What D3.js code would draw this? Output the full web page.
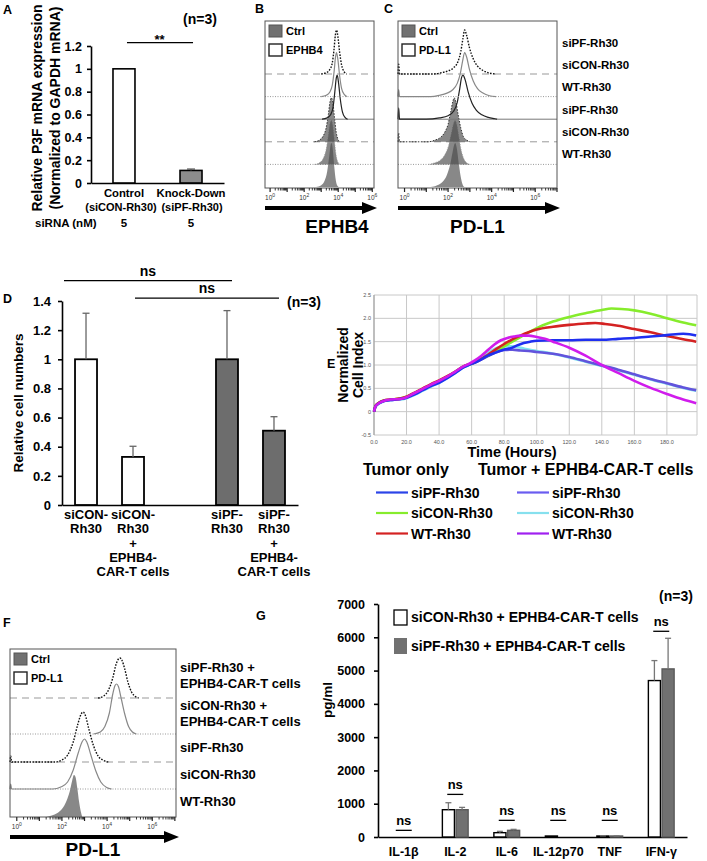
<!DOCTYPE html>
<html>
<head>
<meta charset="utf-8">
<script src="https://cdn.jsdelivr.net/npm/d3@7/dist/d3.min.js"></script>
<style>
  html,body{margin:0;padding:0;background:#fff;}
  svg{display:block;}
</style>
</head>
<body>
<svg id="fig" width="707" height="861"></svg>
<script>
// ================= DATA =================
// ---- Panel A ----
const aCategories = ["Control", "Knock-Down"];
const aSubLabels = ["(siCON-Rh30)", "(siPF-Rh30)"];
const aValues = [1.0, 0.11];
const aErrors = [0, 0.012];
const aSiRNA = ["5", "5"];
const aTicks = [0, 0.2, 0.4, 0.6, 0.8, 1, 1.2];
const aTickLabels = ["0", "0.2", "0.4", "0.6", "0.8", "1", "1.2"];
const aSigLevel = 1.23;

// ---- Panels B / C / F (flow histograms: [log10 intensity, relative count]) ----
const flowTickExps = [0, 2, 4, 6];
const cRowLabels = ["siPF-Rh30", "siCON-Rh30", "WT-Rh30", "siPF-Rh30", "siCON-Rh30", "WT-Rh30"];
const bHist = [
  [[3.0,0],[3.3,3],[3.5,10],[3.65,25],[3.75,55],[3.83,88],[3.9,100],[3.98,85],[4.08,50],[4.2,20],[4.35,5],[4.5,0]],
  [[3.0,0],[3.3,3],[3.5,10],[3.65,26],[3.76,58],[3.84,90],[3.9,100],[3.98,84],[4.08,48],[4.2,18],[4.35,5],[4.5,0]],
  [[3.05,0],[3.35,3],[3.55,10],[3.7,28],[3.8,62],[3.88,92],[3.94,100],[4.02,82],[4.12,46],[4.25,16],[4.4,4],[4.55,0]],
  [[2.6,0],[2.9,4],[3.1,12],[3.28,30],[3.42,62],[3.52,92],[3.6,100],[3.68,90],[3.78,55],[3.88,22],[3.98,6],[4.1,0]],
  [[2.6,0],[2.9,4],[3.1,12],[3.28,32],[3.42,65],[3.52,93],[3.6,100],[3.68,88],[3.78,52],[3.88,20],[3.98,5],[4.1,0]],
  [[2.7,0],[3.0,4],[3.2,14],[3.35,35],[3.47,70],[3.55,95],[3.61,100],[3.68,86],[3.77,45],[3.86,15],[3.95,3],[4.05,0]]
];
const cHist = [
  [[-0.3,0],[-0.27,22],[-0.23,0],[1.3,0],[1.7,3],[2.0,7],[2.25,14],[2.45,28],[2.58,50],[2.68,80],[2.76,100],[2.85,88],[2.98,60],[3.15,35],[3.35,18],[3.6,8],[3.9,2],[4.2,0]],
  [[-0.3,0],[-0.27,16],[-0.23,0],[1.2,0],[1.6,3],[1.95,8],[2.2,15],[2.42,30],[2.56,52],[2.67,82],[2.76,100],[2.85,90],[2.98,62],[3.15,36],[3.35,18],[3.6,8],[3.9,2],[4.2,0]],
  [[-0.3,0],[-0.27,26],[-0.23,0],[1.0,0],[1.6,3],[2.0,8],[2.25,18],[2.42,38],[2.53,68],[2.62,95],[2.68,100],[2.78,90],[2.92,62],[3.1,36],[3.3,20],[3.55,10],[3.85,4],[4.15,1],[4.25,0]],
  [[-0.3,0],[-0.27,20],[-0.23,0],[1.1,0],[1.4,4],[1.65,10],[1.85,22],[2.0,40],[2.12,68],[2.22,92],[2.28,100],[2.36,90],[2.46,62],[2.58,32],[2.7,12],[2.85,4],[3.0,0]],
  [[1.1,0],[1.4,4],[1.65,10],[1.85,22],[2.02,42],[2.15,70],[2.25,92],[2.32,100],[2.4,90],[2.5,60],[2.62,28],[2.75,10],[2.9,2],[3.0,0]],
  [[1.2,0],[1.5,4],[1.75,12],[1.95,28],[2.1,52],[2.2,78],[2.28,96],[2.33,100],[2.4,88],[2.5,50],[2.6,18],[2.68,4],[2.75,0]]
];
const fRowLabels = [["siPF-Rh30 +", "EPHB4-CAR-T cells"], ["siCON-Rh30 +", "EPHB4-CAR-T cells"], ["siPF-Rh30"], ["siCON-Rh30"], ["WT-Rh30"]];
const fHist = [
  [[3.6,0],[3.85,4],[4.05,15],[4.25,40],[4.4,68],[4.5,78],[4.57,80],[4.65,76],[4.78,58],[4.92,32],[5.08,12],[5.25,3],[5.4,0]],
  [[3.4,0],[3.7,4],[3.9,15],[4.1,42],[4.25,80],[4.35,97],[4.42,100],[4.5,95],[4.62,72],[4.78,40],[4.95,15],[5.12,4],[5.3,0]],
  [[-0.3,0],[-0.27,12],[-0.23,0],[1.7,0],[2.0,4],[2.25,14],[2.5,40],[2.7,75],[2.85,96],[2.94,100],[3.03,94],[3.18,68],[3.38,35],[3.6,12],[3.85,3],[4.05,0]],
  [[-0.3,0],[-0.27,10],[-0.23,0],[1.6,0],[1.95,4],[2.25,14],[2.5,38],[2.72,72],[2.9,95],[3.0,100],[3.1,94],[3.28,68],[3.5,36],[3.72,14],[3.98,3],[4.2,0]],
  [[1.3,0],[1.55,3],[1.8,8],[2.0,16],[2.2,32],[2.35,52],[2.45,72],[2.53,84],[2.6,80],[2.68,58],[2.76,30],[2.84,10],[2.9,0]]
];

// ---- Panel D ----
const dCategories = ["siCON-Rh30", "siCON-Rh30 + EPHB4-CAR-T cells", "siPF-Rh30", "siPF-Rh30 + EPHB4-CAR-T cells"];
const dLabelLines = [["siCON-", "Rh30"], ["siCON-", "Rh30", "+", "EPHB4-", "CAR-T cells"], ["siPF-", "Rh30"], ["siPF-", "Rh30", "+", "EPHB4-", "CAR-T cells"]];
const dValues = [1.0, 0.33, 1.0, 0.51];
const dErrors = [0.316, 0.073, 0.334, 0.096];
const dTicks = [0, 0.2, 0.4, 0.6, 0.8, 1, 1.2, 1.4];
const dTickLabels = ["0", "0.2", "0.4", "0.6", "0.8", "1", "1.2", "1.4"];
const dSigPairs = [[0, 2], [1, 3]];
const dSigLevels = [1.54, 1.42];

// ---- Panel E (hours, normalized cell index) ----
const eTumorSiPF = [[0,0],[1,0.12],[3,0.18],[6,0.23],[10,0.25],[16,0.27],[20,0.3],[25,0.37],[30,0.46],[35,0.55],[40,0.62],[45,0.72],[50,0.83],[55,0.95],[58,1.0],[62,1.05],[66,1.12],[70,1.2],[75,1.27],[80,1.33],[84,1.36],[88,1.42],[92,1.47],[96,1.5],[100,1.52],[110,1.53],[120,1.53],[130,1.54],[140,1.54],[150,1.56],[160,1.58],[170,1.61],[180,1.64],[190,1.67],[194,1.66],[198,1.63]];
const eTumorSiCON = [[0,0],[1,0.13],[3,0.19],[6,0.24],[10,0.26],[16,0.28],[20,0.32],[25,0.4],[30,0.49],[35,0.58],[40,0.66],[45,0.75],[50,0.86],[55,0.97],[58,1.01],[62,1.06],[66,1.13],[70,1.2],[75,1.29],[80,1.4],[85,1.5],[90,1.6],[95,1.7],[100,1.79],[110,1.93],[120,2.03],[130,2.11],[140,2.18],[146,2.21],[152,2.2],[160,2.17],[170,2.1],[180,2.0],[190,1.91],[198,1.85]];
const eTumorWT = [[0,0],[1,0.13],[3,0.19],[6,0.24],[10,0.26],[16,0.28],[20,0.32],[25,0.41],[30,0.5],[35,0.59],[40,0.67],[45,0.76],[50,0.86],[55,0.97],[58,1.01],[62,1.06],[66,1.13],[70,1.22],[75,1.34],[80,1.45],[85,1.55],[90,1.63],[95,1.7],[100,1.76],[110,1.82],[120,1.86],[130,1.89],[136,1.9],[142,1.88],[150,1.84],[160,1.77],[170,1.7],[180,1.62],[190,1.55],[198,1.5]];
const eCarSiPF = [[0,0],[1,0.12],[3,0.18],[6,0.23],[10,0.25],[16,0.27],[20,0.31],[25,0.39],[30,0.48],[35,0.57],[40,0.65],[45,0.74],[50,0.85],[55,0.96],[58,1.0],[62,1.05],[66,1.12],[70,1.19],[75,1.27],[80,1.32],[85,1.33],[90,1.31],[95,1.3],[100,1.28],[110,1.24],[120,1.17],[130,1.08],[140,0.99],[150,0.9],[160,0.8],[170,0.7],[180,0.61],[190,0.52],[198,0.46]];
const eCarSiCON = [[0,0],[1,0.11],[3,0.17],[6,0.22],[10,0.25],[16,0.26],[20,0.29],[25,0.36],[30,0.45],[35,0.54],[40,0.62],[45,0.72],[50,0.83],[55,0.95],[58,0.99],[62,1.05],[66,1.15],[70,1.26],[75,1.36],[80,1.4],[85,1.4],[90,1.37],[95,1.33],[100,1.3],[110,1.24],[120,1.16],[130,1.07],[140,0.98],[150,0.89],[160,0.79],[170,0.69],[180,0.6],[190,0.51],[198,0.45]];
const eCarWT = [[0,0],[1,0.12],[3,0.18],[6,0.23],[10,0.26],[16,0.27],[20,0.31],[25,0.4],[30,0.49],[35,0.58],[40,0.66],[45,0.75],[50,0.86],[55,0.97],[58,1.02],[62,1.1],[66,1.2],[70,1.32],[74,1.44],[78,1.53],[82,1.58],[86,1.61],[90,1.63],[95,1.63],[100,1.6],[105,1.56],[110,1.5],[120,1.37],[130,1.2],[140,1.0],[150,0.83],[160,0.66],[170,0.51],[180,0.38],[190,0.26],[198,0.18]];
const eXTicks = [0, 20, 40, 60, 80, 100, 120, 140, 160, 180];
const eXTickLabels = ["0.0", "20.0", "40.0", "60.0", "80.0", "100.0", "120.0", "140.0", "160.0", "180.0"];
const eYTicks = [-0.5, 0, 0.5, 1, 1.5, 2, 2.5];
const eYTickLabels = ["-0.5", "0", "0.5", "1.0", "1.5", "2.0", "2.5"];
const eLegendGroups = ["Tumor only", "Tumor + EPHB4-CAR-T cells"];
const eLegendNames = ["siPF-Rh30", "siCON-Rh30", "WT-Rh30"];

// ---- Panel G ----
const gCategories = ["IL-1β", "IL-2", "IL-6", "IL-12p70", "TNF", "IFN-γ"];
const gSeries = ["siCON-Rh30 + EPHB4-CAR-T cells", "siPF-Rh30 + EPHB4-CAR-T cells"];
const gSiCON = [0, 820, 130, 30, 30, 4700];
const gSiCONErr = [0, 210, 40, 0, 5, 600];
const gSiPF = [0, 820, 200, 0, 30, 5050];
const gSiPFErr = [0, 70, 30, 0, 5, 920];
const gTicks = [0, 1000, 2000, 3000, 4000, 5000, 6000, 7000];
const gSigLevels = [200, 1280, 500, 500, 500, 6180];

// ================= DRAWING =================
const FONT = "'Liberation Sans', Arial, Helvetica, sans-serif";
const svg = d3.select("#fig").attr("font-family", FONT);
svg.append("rect").attr("width", 707).attr("height", 861).attr("fill", "#fff");

function label(g, x, y, s, o = {}) {
  return g.append("text").attr("x", x).attr("y", y).text(s)
    .attr("font-size", o.size || 12)
    .attr("font-weight", o.weight || "bold")
    .attr("text-anchor", o.anchor || "start")
    .attr("fill", o.fill || "#000");
}
function vlabel(g, x, y, s, size) {
  return g.append("text").attr("transform", `translate(${x},${y}) rotate(-90)`)
    .attr("text-anchor", "middle").attr("font-size", size).attr("font-weight", "bold").text(s);
}
function styleAxis(sel, size) {
  sel.select(".domain").attr("stroke", "#000").attr("stroke-width", 1.6);
  sel.selectAll(".tick line").attr("stroke", "#000").attr("stroke-width", 1.6);
  sel.selectAll(".tick text").attr("font-size", size).attr("font-weight", "bold")
    .attr("fill", "#000").attr("font-family", FONT);
}
function errBar(g, x, yTop, yBase, cap, color) {
  g.append("line").attr("x1", x).attr("x2", x).attr("y1", yBase).attr("y2", yTop)
    .attr("stroke", color).attr("stroke-width", 1.3);
  g.append("line").attr("x1", x - cap / 2).attr("x2", x + cap / 2).attr("y1", yTop).attr("y2", yTop)
    .attr("stroke", color).attr("stroke-width", 1.3);
}

// ---------- Panel A ----------
(function () {
  const g = svg.append("g");
  const x = d3.scaleBand().domain(aCategories).range([91, 224]).paddingInner(0.672).paddingOuter(0.328);
  const y = d3.scaleLinear().domain([0, 1.2]).range([183, 46]);
  label(g, 3, 14, "A", { size: 12.5 });
  label(g, 183, 24, "(n=3)", { size: 14 });
  vlabel(g, 42, 108, "Relative P3F mRNA expression", 14);
  vlabel(g, 60, 108, "(Normalized to GAPDH mRNA)", 14);
  g.append("g").attr("transform", "translate(91,0)")
    .call(d3.axisLeft(y).tickValues(aTicks).tickSize(4).tickSizeOuter(0).tickPadding(5)
      .tickFormat((d, i) => aTickLabels[i]))
    .call(s => styleAxis(s, 12.5));
  g.append("g").attr("transform", `translate(0,${y(0)})`)
    .call(d3.axisBottom(x).tickSize(0).tickSizeOuter(0).tickFormat(""))
    .call(s => styleAxis(s, 12));
  g.selectAll("rect.bar").data(aValues).join("rect").attr("class", "bar")
    .attr("x", (d, i) => x(aCategories[i])).attr("width", x.bandwidth())
    .attr("y", d => y(d)).attr("height", d => y(0) - y(d))
    .attr("fill", (d, i) => i === 0 ? "#fff" : "#8c8c8c")
    .attr("stroke", "#000").attr("stroke-width", 1.6);
  aValues.forEach((v, i) => {
    if (aErrors[i] > 0) errBar(g, x(aCategories[i]) + x.bandwidth() / 2, y(v + aErrors[i]), y(v), 8, "#555");
  });
  const cx = i => x(aCategories[i]) + x.bandwidth() / 2;
  g.append("line").attr("x1", cx(0) + 3).attr("x2", cx(1) + 2).attr("y1", y(aSigLevel)).attr("y2", y(aSigLevel))
    .attr("stroke", "#000").attr("stroke-width", 1.3);
  label(g, (cx(0) + cx(1)) / 2 + 2, y(aSigLevel) + 1, "**", { size: 13, anchor: "middle" });
  const shift = [-3, 1];
  aCategories.forEach((c, i) => {
    label(g, cx(i), 197, c, { size: 11.3, anchor: "middle" });
    label(g, cx(i) + shift[i], 211, aSubLabels[i], { size: 11, anchor: "middle" });
    label(g, cx(i), 227, aSiRNA[i], { size: 11.5, anchor: "middle" });
  });
  label(g, 35, 227, "siRNA (nM)", { size: 11.5 });
})();

// ---------- Flow panel helper ----------
function flowPanel(o) {
  const g = svg.append("g");
  const x = d3.scaleLog().domain([Math.pow(10, -0.3), Math.pow(10, o.maxExp)]).range([o.x0, o.x1]);
  const h = d3.scaleLinear().domain([0, 100]).range([0, o.hPx]);
  const xs = d => x(Math.pow(10, d[0]));
  for (let i = o.hist.length - 1; i >= 0; i--) {
    const base = o.rowBase[i], st = o.styles[i];
    if (st.base) {
      g.append("line").attr("x1", o.x0).attr("x2", o.x1).attr("y1", base).attr("y2", base)
        .attr("stroke", st.baseColor || "#999").attr("stroke-width", 1)
        .attr("stroke-dasharray", st.base === "dash" ? "7,5" : st.base === "dot" ? "1,1.5" : null);
    }
    const pts = o.hist[i];
    if (st.fill) {
      g.append("path").datum(pts)
        .attr("d", d3.area().x(xs).y0(base).y1(d => base - h(d[1])).curve(d3.curveMonotoneX))
        .attr("fill", "#4a4a4a").attr("fill-opacity", 0.66);
    }
    if (st.stroke) {
      g.append("path").datum(pts)
        .attr("d", d3.line().x(xs).y(d => base - h(d[1])).curve(d3.curveMonotoneX))
        .attr("fill", "none").attr("stroke", st.stroke).attr("stroke-width", st.sw || 1.2)
        .attr("stroke-dasharray", st.dash || null);
    }
  }
  g.append("rect").attr("x", o.x0).attr("y", o.y0).attr("width", o.x1 - o.x0).attr("height", o.y1 - o.y0)
    .attr("fill", "none").attr("stroke", "#555").attr("stroke-width", 1);
  const maxV = Math.pow(10, o.maxExp);
  for (let k = 0; k <= 7; k++) {
    for (let m = 1; m <= 9; m++) {
      const v = m * Math.pow(10, k);
      if (v > maxV) continue;
      const px = x(v);
      g.append("line").attr("x1", px).attr("x2", px).attr("y1", o.y1).attr("y2", o.y1 + (m === 1 ? 4 : 2.5))
        .attr("stroke", "#222").attr("stroke-width", m === 1 ? 1.2 : 0.9);
    }
  }
  flowTickExps.forEach(k => {
    if (Math.pow(10, k) > maxV) return;
    const t = g.append("text").attr("x", x(Math.pow(10, k))).attr("y", o.y1 + 12)
      .attr("text-anchor", "middle").attr("font-size", 6.5).attr("fill", "#333");
    t.append("tspan").text("10");
    t.append("tspan").attr("dy", -3).attr("font-size", 5).text(k);
  });
  const ay = o.y1 + 20;
  g.append("line").attr("x1", o.x0).attr("x2", o.x1 - 8).attr("y1", ay).attr("y2", ay)
    .attr("stroke", "#000").attr("stroke-width", 3.8);
  g.append("path").attr("d", `M${o.x1 - 12},${ay - 6}L${o.x1 + 3},${ay}L${o.x1 - 12},${ay + 6}Z`).attr("fill", "#000");
  label(g, o.titleX != null ? o.titleX : (o.x0 + o.x1) / 2, o.titleY, o.title, { size: o.titleSize, anchor: "middle" });
  g.append("rect").attr("x", o.x0 + 4).attr("y", o.y0 + 4).attr("width", 13).attr("height", 12)
    .attr("fill", "#717171").attr("stroke", "#555").attr("stroke-width", 1);
  label(g, o.x0 + 21, o.y0 + 14, "Ctrl", { size: 11 });
  g.append("rect").attr("x", o.x0 + 4).attr("y", o.y0 + 23).attr("width", 13).attr("height", 12)
    .attr("fill", "#fff").attr("stroke", "#222").attr("stroke-width", 1.4);
  label(g, o.x0 + 21, o.y0 + 33, o.stainName, { size: 11 });
  label(g, o.letterX, o.letterY, o.letter, { size: 12.5 });
  return { g, x };
}

const rowStyles6 = [
  { base: "dash", stroke: "#111", dash: "1.6,1.4", sw: 1.4 },
  { base: "dot", stroke: "#888", sw: 1.2 },
  { base: "solid", baseColor: "#777", stroke: "#222", sw: 1.2 },
  { base: "dash", fill: true, stroke: "#333", dash: "1.5,1.5", sw: 1 },
  { base: "dot", fill: true, stroke: "#999", dash: "1,1.5", sw: 0.8 },
  { base: null, fill: true }
];
const rowBase6 = d3.range(6).map(i => 74 + i * 22.6);

flowPanel({ x0: 265, x1: 374, y0: 21, y1: 188, maxExp: 6.1, hist: bHist, rowBase: rowBase6, styles: rowStyles6, hPx: 44,
  title: "EPHB4", titleX: 337, titleY: 233, titleSize: 19, stainName: "EPHB4", letter: "B", letterX: 255, letterY: 13 });
flowPanel({ x0: 398, x1: 557, y0: 21, y1: 188, maxExp: 7, hist: cHist, rowBase: rowBase6, styles: rowStyles6, hPx: 44,
  title: "PD-L1", titleY: 233, titleSize: 19, stainName: "PD-L1", letter: "C", letterX: 384, letterY: 13 });
(function () {
  const g = svg.append("g");
  cRowLabels.forEach((s, i) => label(g, 562, 47 + i * 22.2, s, { size: 11.5 }));
})();

// ---------- Panel D ----------
(function () {
  const g = svg.append("g");
  const keys = [dCategories[0], dCategories[1], "", dCategories[2], dCategories[3]];
  const x = d3.scaleBand().domain(keys).range([62, 298]).paddingInner(0.532).paddingOuter(0.277);
  const y = d3.scaleLinear().domain([0, 1.4]).range([505, 301]);
  label(g, 3, 303, "D", { size: 12.5 });
  label(g, 287, 307, "(n=3)", { size: 14 });
  vlabel(g, 23, 403, "Relative cell numbers", 13.5);
  g.append("g").attr("transform", "translate(62,0)")
    .call(d3.axisLeft(y).tickValues(dTicks).tickSize(4).tickSizeOuter(0).tickPadding(7)
      .tickFormat((d, i) => dTickLabels[i]))
    .call(s => styleAxis(s, 13));
  g.append("g").attr("transform", `translate(0,${y(0)})`)
    .call(d3.axisBottom(x).tickSize(0).tickSizeOuter(0).tickFormat(""))
    .call(s => styleAxis(s, 12));
  const cx = i => x(dCategories[i]) + x.bandwidth() / 2;
  g.selectAll("rect.bar").data(dValues).join("rect").attr("class", "bar")
    .attr("x", (d, i) => x(dCategories[i])).attr("width", x.bandwidth())
    .attr("y", d => y(d)).attr("height", d => y(0) - y(d))
    .attr("fill", (d, i) => i < 2 ? "#fff" : "#6d6d6d")
    .attr("stroke", "#000").attr("stroke-width", 1.8);
  dValues.forEach((v, i) => errBar(g, cx(i), y(v + dErrors[i]), y(v), 7, "#666"));
  dLabelLines.forEach((lines, i) => lines.forEach((s, j) =>
    label(g, cx(i), 519 + j * 14.3, s, { size: 13, anchor: "middle" })));
  dSigPairs.forEach((p, k) => {
    const yy = y(dSigLevels[k]);
    const x1 = k === 0 ? x.range()[0] + 2 : cx(p[0]) + 2;
    const x2 = cx(p[1]) + 5;
    g.append("line").attr("x1", x1).attr("x2", x2).attr("y1", yy).attr("y2", yy)
      .attr("stroke", "#000").attr("stroke-width", 1.3);
    label(g, (x1 + x2) / 2, yy - 5, "ns", { size: 14, anchor: "middle" });
  });
})();

// ---------- Panel E ----------
(function () {
  const g = svg.append("g");
  const x = d3.scaleLinear().domain([0, 198.5]).range([374, 697]);
  const y = d3.scaleLinear().domain([-0.5, 2.5]).range([435, 295]);
  label(g, 327, 368, "E", { size: 12.5 });
  g.selectAll("line.vg").data(eXTicks.concat([198.5])).join("line").attr("class", "vg")
    .attr("x1", d => x(d)).attr("x2", d => x(d)).attr("y1", y(-0.5)).attr("y2", y(2.5))
    .attr("stroke", "#c8c8c8").attr("stroke-width", 1);
  g.selectAll("line.hg").data(eYTicks).join("line").attr("class", "hg")
    .attr("x1", x(0)).attr("x2", x(198.5)).attr("y1", d => y(d)).attr("y2", d => y(d))
    .attr("stroke", "#c8c8c8").attr("stroke-width", 1);
  g.append("line").attr("x1", x(0)).attr("x2", x(0)).attr("y1", y(-0.5)).attr("y2", y(2.5))
    .attr("stroke", "#999").attr("stroke-width", 1);
  eXTicks.forEach((t, i) => label(g, x(t), 444, eXTickLabels[i], { size: 5.5, weight: "normal", anchor: "middle", fill: "#555" }));
  eYTicks.forEach((t, i) => label(g, 371, y(t) + 2, eYTickLabels[i], { size: 5.5, weight: "normal", anchor: "end", fill: "#555" }));
  vlabel(g, 348, 365, "Normalized", 14);
  vlabel(g, 363, 365, "Cell Index", 14);
  label(g, 512, 457, "Time (Hours)", { size: 14.5, anchor: "middle" });
  const series = [
    { d: eCarSiCON, c: "#7fe3ee" },
    { d: eCarSiPF, c: "#6253dc" },
    { d: eTumorSiCON, c: "#86ec2c" },
    { d: eTumorWT, c: "#d42222" },
    { d: eTumorSiPF, c: "#1f2ff0" },
    { d: eCarWT, c: "#d01cec" }
  ];
  const line = d3.line().x(d => x(d[0])).y(d => y(d[1])).curve(d3.curveMonotoneX);
  series.forEach(s => g.append("path").datum(s.d).attr("d", line)
    .attr("fill", "none").attr("stroke", s.c).attr("stroke-width", 2.6).attr("stroke-linejoin", "round"));
  label(g, 363, 475, eLegendGroups[0], { size: 16 });
  label(g, 478, 475, eLegendGroups[1], { size: 16 });
  const legCols = [
    ["#2b44e8", "#86ec2c", "#d42222"],
    ["#6a5cf0", "#86e0ee", "#a020f0"]
  ];
  const colX = [376, 517];
  legCols.forEach((cols, ci) => cols.forEach((c, ri) => {
    const yy = 492.5 + ri * 20.5;
    g.append("line").attr("x1", colX[ci]).attr("x2", colX[ci] + 32).attr("y1", yy).attr("y2", yy)
      .attr("stroke", c).attr("stroke-width", 2.2);
    label(g, colX[ci] + 35, yy + 5, eLegendNames[ri], { size: 14 });
  }));
})();

// ---------- Panel F ----------
(function () {
  const stylesF = [
    { base: "dash", stroke: "#111", dash: "1.6,1.4", sw: 1.4 },
    { base: "dot", stroke: "#888", sw: 1.2 },
    { base: "dash", stroke: "#111", dash: "1.6,1.4", sw: 1.4 },
    { base: "dot", stroke: "#888", sw: 1.2 },
    { base: null, fill: true }
  ];
  const baseF = [698, 734, 762, 789, 817];
  const p = flowPanel({ x0: 10, x1: 176, y0: 649, y1: 817, maxExp: 7.05, hist: fHist, rowBase: baseF, styles: stylesF, hPx: 50,
    title: "PD-L1", titleY: 856, titleSize: 19, stainName: "PD-L1", letter: "F", letterX: 3, letterY: 627 });
  const labY = [[672, 688], [710, 726], [752], [779], [806]];
  fRowLabels.forEach((lines, i) => lines.forEach((s, j) => label(p.g, 180, labY[i][j], s, { size: 13 })));
})();

// ---------- Panel G ----------
(function () {
  const g = svg.append("g");
  const x = d3.scaleBand().domain(gCategories).range([378, 687]).paddingInner(0.5).paddingOuter(0.25);
  const xs = d3.scaleBand().domain(gSeries).range([0, x.bandwidth()]).paddingInner(0.12);
  const y = d3.scaleLinear().domain([0, 7000]).range([837, 604]);
  label(g, 256, 620, "G", { size: 12.5 });
  label(g, 659, 601, "(n=3)", { size: 14 });
  vlabel(g, 332, 700, "pg/ml", 13.5);
  g.append("g").attr("transform", "translate(378,0)")
    .call(d3.axisLeft(y).tickValues(gTicks).tickSize(4).tickSizeOuter(0).tickPadding(9).tickFormat(d3.format("d")))
    .call(s => styleAxis(s, 12.5));
  g.append("g").attr("transform", `translate(0,${y(0)})`)
    .call(d3.axisBottom(x).tickSize(0).tickSizeOuter(0).tickFormat(""))
    .call(s => styleAxis(s, 12));
  const vals = [gSiCON, gSiPF], errs = [gSiCONErr, gSiPFErr];
  gCategories.forEach((c, i) => {
    vals.forEach((arr, si) => {
      const bx = x(c) + xs(gSeries[si]);
      const v = arr[i];
      if (v > 0) {
        g.append("rect").attr("x", bx).attr("width", xs.bandwidth()).attr("y", y(v)).attr("height", y(0) - y(v))
          .attr("fill", si === 0 ? "#fff" : "#717171").attr("stroke", si === 0 ? "#000" : "#5a5a5a").attr("stroke-width", 1.4);
        if (errs[si][i] > 0) errBar(g, bx + xs.bandwidth() / 2, y(v + errs[si][i]), y(v), 6, "#777");
      }
    });
    const cx = x(c) + x.bandwidth() / 2;
    const yy = y(gSigLevels[i]);
    g.append("line").attr("x1", cx - 8).attr("x2", cx + 8).attr("y1", yy).attr("y2", yy)
      .attr("stroke", "#000").attr("stroke-width", 1.3);
    label(g, cx, yy - 5, "ns", { size: 13, anchor: "middle" });
    label(g, cx, 856, c, { size: 12.5, anchor: "middle" });
  });
  g.append("rect").attr("x", 394).attr("y", 610).attr("width", 13).attr("height", 15)
    .attr("fill", "#fff").attr("stroke", "#000").attr("stroke-width", 1.3);
  label(g, 411, 622, gSeries[0], { size: 14 });
  g.append("rect").attr("x", 394).attr("y", 638).attr("width", 13).attr("height", 16)
    .attr("fill", "#717171").attr("stroke", "none");
  label(g, 411, 651, gSeries[1], { size: 14 });
})();
</script>
</body>
</html>
